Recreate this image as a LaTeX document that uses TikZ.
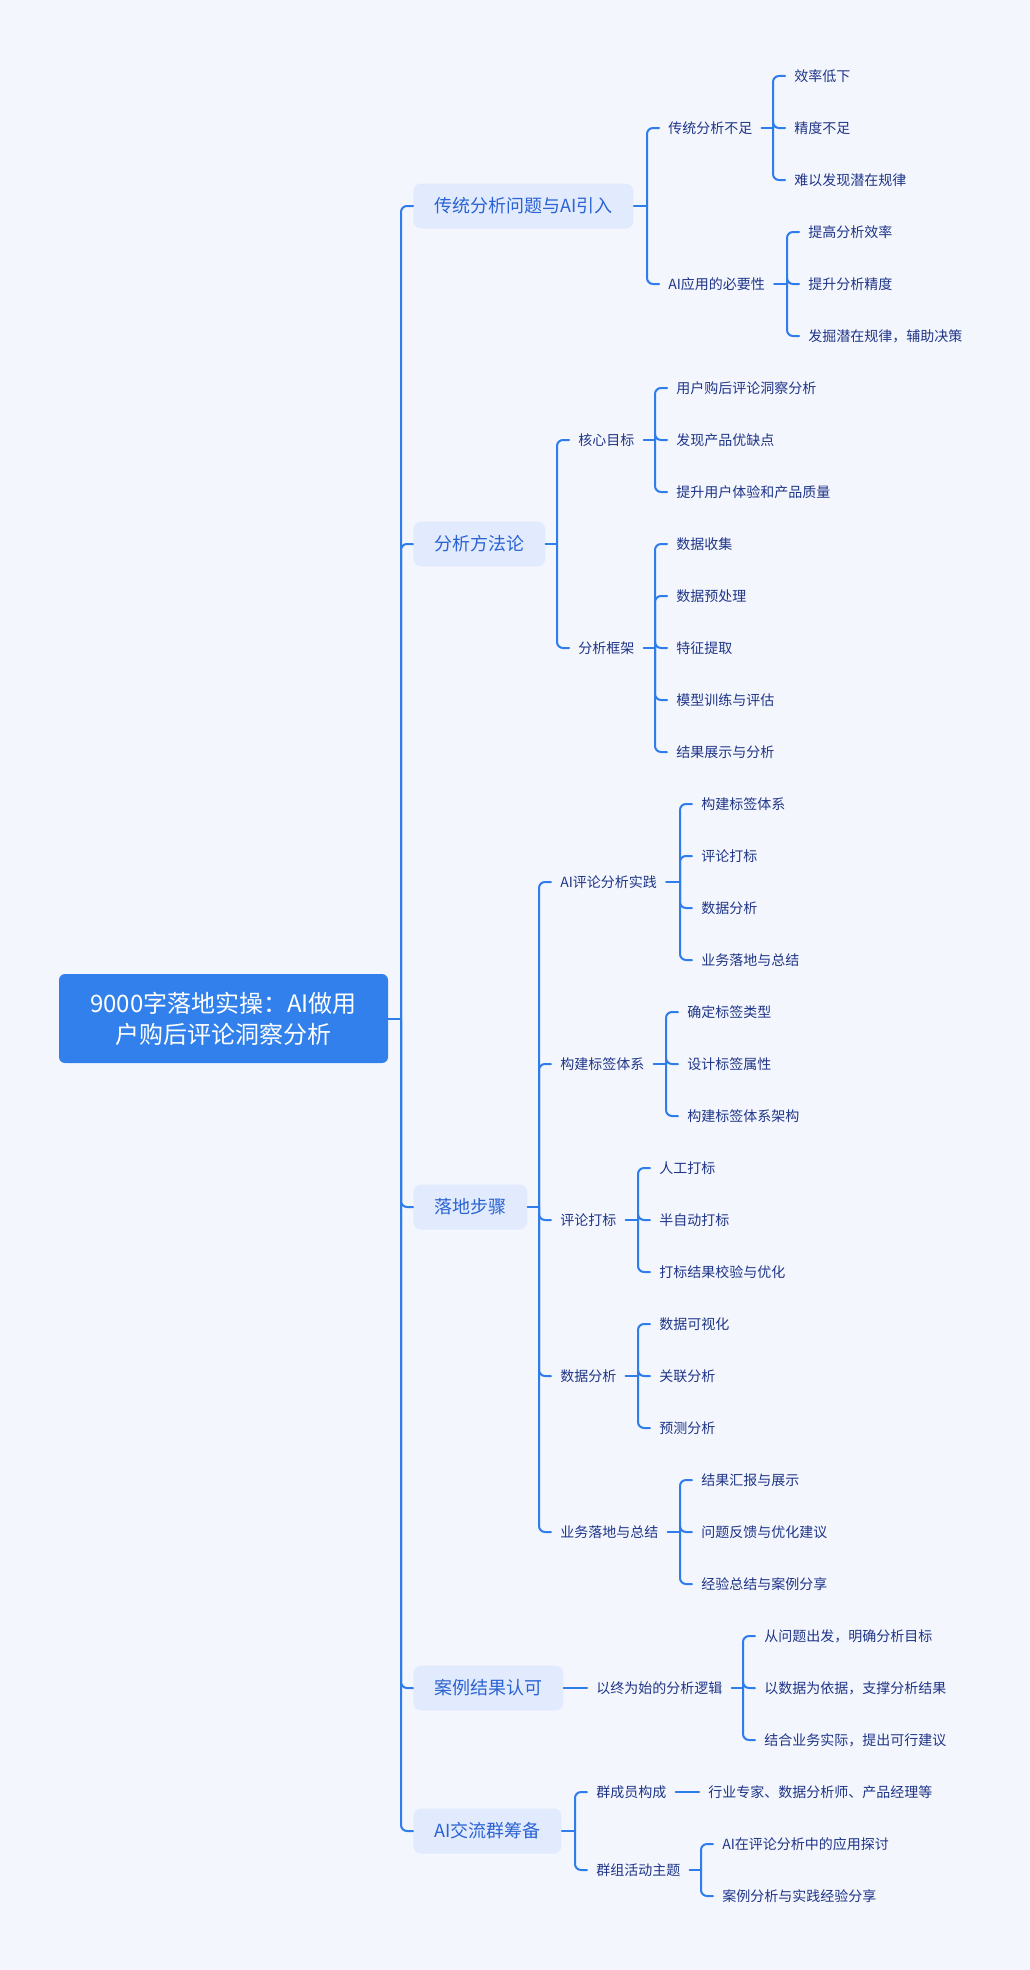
\documentclass[tikz,border=0pt]{standalone}
\usepackage{fontspec}
\newfontfamily\cjk{Noto Sans CJK SC}
\definecolor{bgcol}{HTML}{F4F6FE}
\definecolor{linkblue}{HTML}{2F7DEB}
\definecolor{rootblue}{HTML}{3180EB}
\definecolor{topicfill}{HTML}{E2EAFD}
\definecolor{topicblue}{HTML}{2A63D3}
\definecolor{itemblue}{HTML}{1F3587}
\begin{document}
\begin{tikzpicture}[x=0.75pt, y=-39pt, font=\cjk, line cap=round, line join=round,
  link/.style={draw=linkblue, line width=1.5pt, rounded corners=4.5pt},
  rootbox/.style={fill=rootblue, text=white, rounded corners=4.5pt, align=center,
    minimum width=246.75pt, minimum height=66.75pt, font=\cjk\fontsize{18}{23.25}\selectfont},
  topic/.style={fill=topicfill, text=topicblue, rounded corners=6pt, anchor=west,
    inner xsep=15.75pt, minimum height=33.75pt, font=\cjk\fontsize{13.5}{16}\selectfont},
  item/.style={text=itemblue, anchor=west, inner xsep=6.75pt, inner ysep=2pt,
    font=\cjk\fontsize{10.5}{12}\selectfont}]
\fill[bgcol] (0,-1.4615) rectangle (1030,36.4231);
\node[rootbox] (root) at (223.5,18.125) {9000字落地实操：AI做用\\户购后评论洞察分析};
\node[topic] (t1) at (413,2.5) {传统分析问题与AI引入};
\node[topic] (t2) at (413,9) {分析方法论};
\node[topic] (t3) at (413,21.75) {落地步骤};
\node[topic] (t4) at (413,31) {案例结果认可};
\node[topic] (t5) at (413,33.75) {AI交流群筹备};
\draw[link] (root.east) -- (401,18.125) coordinate (j0);
\foreach \n in {t1,t2,t3,t4,t5} \draw[link] (j0) |- (\n.west);
% 传统分析问题与AI引入
\draw[link] (t1.east) -- (647,2.5) coordinate (j1);
\node[item] (s11) at (659,1) {传统分析不足};
\node[item] (s12) at (659,4) {AI应用的必要性};
\foreach \n in {s11,s12} \draw[link] (j1) |- (\n.west);
\draw[link] (s11.east) -- (773,1) coordinate (j11);
\foreach \t [count=\i from 0] in {效率低下,精度不足,难以发现潜在规律}{
  \node[item] (l11\i) at (785,0+\i) {\t};
  \draw[link] (j11) |- (l11\i.west);
}
\draw[link] (s12.east) -- (787,4) coordinate (j12);
\foreach \t [count=\i from 0] in {提高分析效率,提升分析精度,发掘潜在规律，辅助决策}{
  \node[item] (l12\i) at (799,3+\i) {\t};
  \draw[link] (j12) |- (l12\i.west);
}
% 分析方法论
\draw[link] (t2.east) -- (557,9) coordinate (j2);
\node[item] (s21) at (569,7) {核心目标};
\node[item] (s22) at (569,11) {分析框架};
\foreach \n in {s21,s22} \draw[link] (j2) |- (\n.west);
\draw[link] (s21.east) -- (655,7) coordinate (j21);
\foreach \t [count=\i from 0] in {用户购后评论洞察分析,发现产品优缺点,提升用户体验和产品质量}{
  \node[item] (l21\i) at (667,6+\i) {\t};
  \draw[link] (j21) |- (l21\i.west);
}
\draw[link] (s22.east) -- (655,11) coordinate (j22);
\foreach \t [count=\i from 0] in {数据收集,数据预处理,特征提取,模型训练与评估,结果展示与分析}{
  \node[item] (l22\i) at (667,9+\i) {\t};
  \draw[link] (j22) |- (l22\i.west);
}
% 落地步骤
\draw[link] (t3.east) -- (539,21.75) coordinate (j3);
\node[item] (s31) at (551,15.5) {AI评论分析实践};
\node[item] (s32) at (551,19) {构建标签体系};
\node[item] (s33) at (551,22) {评论打标};
\node[item] (s34) at (551,25) {数据分析};
\node[item] (s35) at (551,28) {业务落地与总结};
\foreach \n in {s31,s32,s33,s34,s35} \draw[link] (j3) |- (\n.west);
\draw[link] (s31.east) -- (680,15.5) coordinate (j31);
\foreach \t [count=\i from 0] in {构建标签体系,评论打标,数据分析,业务落地与总结}{
  \node[item] (l31\i) at (692,14+\i) {\t};
  \draw[link] (j31) |- (l31\i.west);
}
\draw[link] (s32.east) -- (666,19) coordinate (j32);
\foreach \t [count=\i from 0] in {确定标签类型,设计标签属性,构建标签体系架构}{
  \node[item] (l32\i) at (678,18+\i) {\t};
  \draw[link] (j32) |- (l32\i.west);
}
\draw[link] (s33.east) -- (638,22) coordinate (j33);
\foreach \t [count=\i from 0] in {人工打标,半自动打标,打标结果校验与优化}{
  \node[item] (l33\i) at (650,21+\i) {\t};
  \draw[link] (j33) |- (l33\i.west);
}
\draw[link] (s34.east) -- (638,25) coordinate (j34);
\foreach \t [count=\i from 0] in {数据可视化,关联分析,预测分析}{
  \node[item] (l34\i) at (650,24+\i) {\t};
  \draw[link] (j34) |- (l34\i.west);
}
\draw[link] (s35.east) -- (680,28) coordinate (j35);
\foreach \t [count=\i from 0] in {结果汇报与展示,问题反馈与优化建议,经验总结与案例分享}{
  \node[item] (l35\i) at (692,27+\i) {\t};
  \draw[link] (j35) |- (l35\i.west);
}
% 案例结果认可
\node[item] (s41) at (587,31) {以终为始的分析逻辑};
\draw[link] (t4.east) -- (s41.west);
\draw[link] (s41.east) -- (743,31) coordinate (j41);
\foreach \t [count=\i from 0] in {从问题出发，明确分析目标,以数据为依据，支撑分析结果,结合业务实际，提出可行建议}{
  \node[item] (l41\i) at (755,30+\i) {\t};
  \draw[link] (j41) |- (l41\i.west);
}
% AI交流群筹备
\draw[link] (t5.east) -- (575,33.75) coordinate (j5);
\node[item] (s51) at (587,33) {群成员构成};
\node[item] (s52) at (587,34.5) {群组活动主题};
\foreach \n in {s51,s52} \draw[link] (j5) |- (\n.west);
\node[item] (l510) at (699,33) {行业专家、数据分析师、产品经理等};
\draw[link] (s51.east) -- (l510.west);
\draw[link] (s52.east) -- (701,34.5) coordinate (j52);
\foreach \t [count=\i from 0] in {AI在评论分析中的应用探讨,案例分析与实践经验分享}{
  \node[item] (l52\i) at (713,34+\i) {\t};
  \draw[link] (j52) |- (l52\i.west);
}
\end{tikzpicture}
\end{document}
